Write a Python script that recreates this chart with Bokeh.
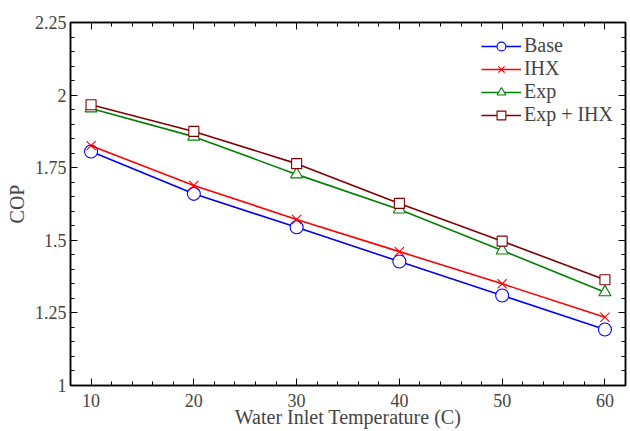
from bokeh.plotting import figure
from bokeh.models import LinearAxis, FixedTicker, Legend, LegendItem, Range1d
from bokeh.embed import file_html
from bokeh.resources import INLINE

temps = [10, 20, 30, 40, 50, 60]
base = [1.806, 1.660, 1.545, 1.427, 1.310, 1.193]
ihx = [1.826, 1.689, 1.572, 1.461, 1.350, 1.235]
exp_ = [1.954, 1.857, 1.727, 1.606, 1.465, 1.321]
exp_ihx = [1.967, 1.875, 1.764, 1.627, 1.497, 1.364]

x_ticks = [10, 20, 30, 40, 50, 60]
y_ticks = [1, 1.25, 1.5, 1.75, 2, 2.25]
y_labels = ["1", "1.25", "1.5", "1.75", "2", "2.25"]

FONT = "Liberation Serif"

p = figure(width=630, height=431, output_backend="svg", toolbar_location=None,
           x_range=Range1d(8, 62), y_range=Range1d(1, 2.25),
           min_border_left=70, min_border_right=5, min_border_top=22, min_border_bottom=46)
p.background_fill_color = "white"
p.border_fill_color = "white"
p.outline_line_color = "black"
p.outline_line_width = 1.5
p.xgrid.visible = False
p.ygrid.visible = False

series = [
    ("Base", base, "#0000ff", "circle", 13),
    ("IHX", ihx, "#ff0000", "x", 13),
    ("Exp", exp_, "#008000", "triangle", 12),
    ("Exp + IHX", exp_ihx, "#800000", "square", 10),
]
items = []
for name, vals, col, mk, sz in series:
    l = p.line(temps, vals, line_color=col, line_width=1.6)
    s = p.scatter(temps, vals, marker=mk, size=sz, line_color=col, fill_color="white",
                  line_width=1.1)
    items.append(LegendItem(label=name, renderers=[l, s]))

legend = Legend(items=items, location="top_right", border_line_alpha=0,
                background_fill_alpha=0, label_text_font=FONT,
                label_text_font_size="20px", glyph_width=40, glyph_height=22,
                spacing=0, padding=0, margin=12, label_standoff=3, label_height=22)
p.add_layout(legend, "center")

def style(ax, labels=True):
    ax.axis_line_color = "black"
    ax.axis_line_width = 1.5
    ax.major_tick_in = 7
    ax.major_tick_out = 0
    ax.minor_tick_in = 4
    ax.minor_tick_out = 0
    ax.major_tick_line_color = "black"
    ax.minor_tick_line_color = "black"
    ax.major_label_text_font = FONT
    ax.major_label_text_font_size = "18px"
    ax.axis_label_text_font = FONT
    ax.axis_label_text_font_size = "20px"
    ax.axis_label_text_font_style = "normal"
    if not labels:
        ax.major_label_text_alpha = 0
        ax.major_label_text_font_size = "0px"

xt = FixedTicker(ticks=x_ticks, minor_ticks=[x for x in range(8, 63, 2)])
yt = FixedTicker(ticks=y_ticks, minor_ticks=[round(1 + 0.05 * i, 2) for i in range(26)])

p.xaxis.ticker = xt
p.yaxis.ticker = yt
p.yaxis.major_label_overrides = {t: l for t, l in zip(y_ticks, y_labels)}
p.xaxis.axis_label = "Water Inlet Temperature (C)"
p.yaxis.axis_label = "COP"
style(p.xaxis[0])
style(p.yaxis[0])
p.xaxis.major_label_standoff = 8
p.xaxis.axis_label_standoff = -4
p.yaxis.major_label_standoff = 4
p.yaxis.axis_label_standoff = 4

top = LinearAxis(ticker=xt)
right = LinearAxis(ticker=yt)
style(top, False)
style(right, False)
p.add_layout(top, "above")
p.add_layout(right, "right")

open("out.html", "w").write(file_html(p, INLINE))
